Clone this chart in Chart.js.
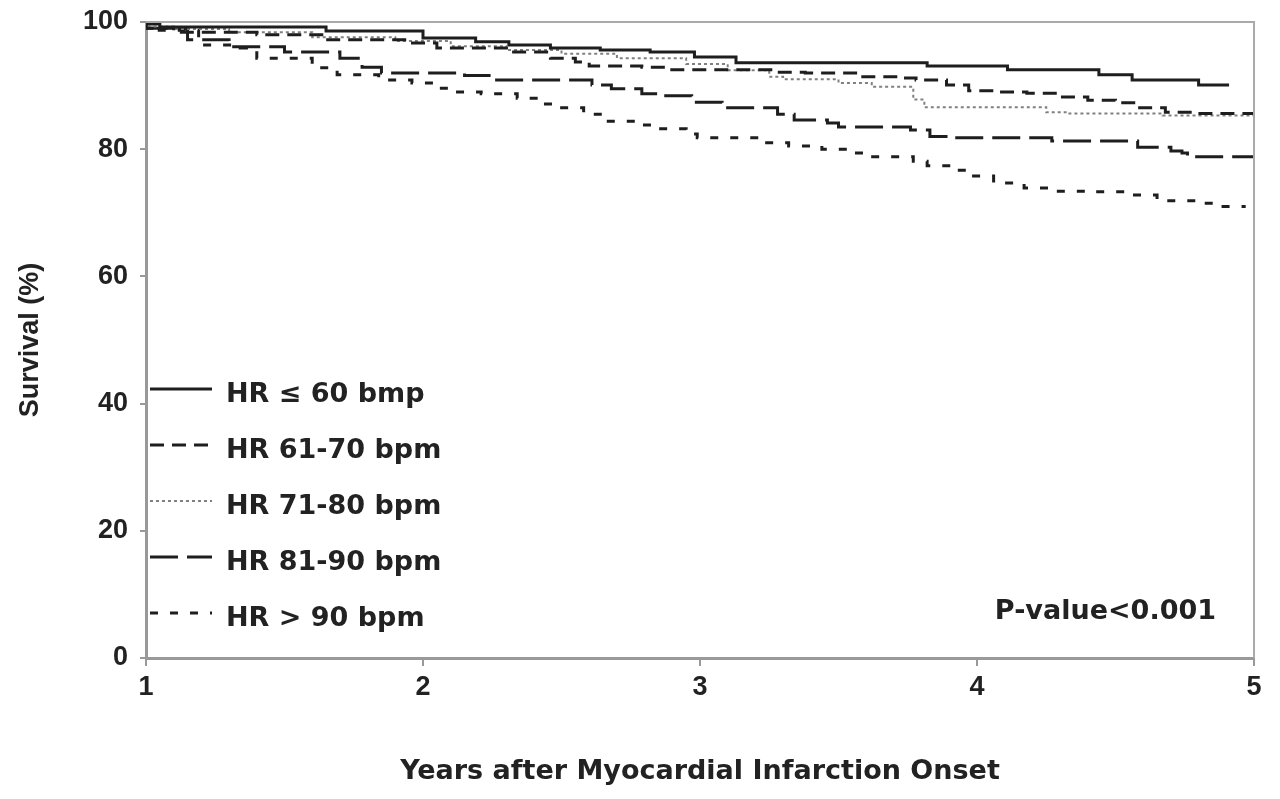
<!DOCTYPE html>
<html>
<head>
<meta charset="utf-8">
<script src="https://cdn.jsdelivr.net/npm/chart.js@4.4.2/dist/chart.umd.min.js"></script>
<style>
  html, body { margin: 0; padding: 0; background: #fff; }
  canvas { display: block; }
</style>
</head>
<body>
<canvas id="chart-survival" width="1280" height="799"></canvas>
<script>
// survival step data (years after MI onset, % surviving)
const hr60_years = [1, 1.05, 1.65, 2.0, 2.19, 2.31, 2.46, 2.64, 2.82, 2.98, 3.13, 3.82, 4.11, 4.44, 4.56, 4.80, 4.82, 4.91];
const hr60_surv  = [100, 99.7, 99.2, 98.6, 97.5, 96.9, 96.4, 95.9, 95.6, 95.3, 94.5, 93.6, 93.1, 92.5, 91.7, 90.9, 90.1, 90.1];

const hr61_70_years = [1, 1.1, 1.4, 1.65, 1.95, 2.05, 2.32, 2.46, 2.55, 2.6, 2.79, 2.89, 3.27, 3.38, 3.58, 3.72, 3.78, 3.89, 3.97, 4.07, 4.18, 4.29, 4.40, 4.50, 4.58, 4.68, 4.79, 5.0];
const hr61_70_surv  = [100, 99.0, 98.4, 98.0, 97.2, 96.7, 95.9, 95.3, 94.3, 93.7, 93.1, 92.9, 92.5, 92.1, 92.0, 91.4, 91.2, 90.9, 90.1, 89.2, 89.0, 88.8, 88.2, 87.7, 87.3, 86.5, 85.8, 85.6];

const hr71_80_years = [1, 1.1, 1.3, 1.6, 1.9, 2.1, 2.3, 2.5, 2.7, 2.95, 3.1, 3.25, 3.3, 3.5, 3.62, 3.77, 3.81, 4.25, 4.32, 4.67, 5.0];
const hr71_80_surv  = [100, 99.3, 98.9, 98.4, 97.6, 97.0, 96.2, 95.6, 95.0, 94.3, 93.4, 92.4, 91.4, 91.0, 90.4, 89.8, 87.8, 86.6, 85.8, 85.6, 85.3];

const hr81_90_years = [1, 1.15, 1.3, 1.5, 1.7, 1.78, 1.85, 2.15, 2.26, 2.61, 2.68, 2.79, 2.85, 2.97, 3.08, 3.28, 3.34, 3.46, 3.50, 3.76, 3.83, 3.91, 4.27, 4.58, 4.70, 4.74, 4.76, 4.97, 5.0];
const hr81_90_surv  = [100, 99.0, 97.2, 96.1, 95.3, 94.3, 92.9, 92.0, 91.6, 90.9, 90.1, 89.5, 88.7, 88.4, 87.4, 86.5, 85.5, 84.6, 84.1, 83.5, 83.0, 82.0, 81.8, 81.3, 80.3, 79.7, 79.4, 78.8, 78.8];

const hr90_years = [1, 1.19, 1.34, 1.40, 1.60, 1.69, 1.84, 1.96, 2.05, 2.10, 2.21, 2.34, 2.43, 2.49, 2.58, 2.64, 2.78, 2.84, 2.95, 2.99, 3.23, 3.32, 3.44, 3.54, 3.61, 3.77, 3.82, 3.92, 3.98, 4.06, 4.17, 4.26, 4.43, 4.55, 4.65, 4.80, 4.88, 4.93, 4.97];
const hr90_surv  = [100, 98.7, 96.4, 95.9, 94.3, 92.8, 91.7, 90.9, 90.4, 89.6, 89.0, 88.7, 88.0, 87.1, 86.5, 85.5, 84.4, 83.8, 83.2, 82.4, 81.8, 81.0, 80.5, 80.0, 79.4, 78.8, 78.1, 77.4, 76.7, 75.8, 74.7, 73.9, 73.4, 73.3, 72.8, 71.9, 71.5, 71.0, 71.0];

const series_labels = ['HR \u2264 60 bmp', 'HR 61-70 bpm', 'HR 71-80 bpm', 'HR 81-90 bpm', 'HR > 90 bpm'];
const x_ticks = [1, 2, 3, 4, 5];
const y_ticks = [0, 20, 40, 60, 80, 100];
const p_value_text = 'P-value<0.001';

const TEXT_FONT = 'DejaVu Sans';
const TICK_FONT = 'Liberation Sans';

function to_points(xs, ys) {
    return xs.map((x, i) => ({ x, y: ys[i] }));
}

function line_set(label, xs, ys, color, width, dash) {
    return {
        label,
        data: to_points(xs, ys),
        stepped: 'after',
        borderColor: color,
        borderWidth: width,
        borderDash: dash,
        pointRadius: 0,
        fill: false
    };
}

// frame on top/right, legend inside the plot and the p-value note
const decorations = {
    id: 'decorations',
    afterDraw(chart) {
        const { ctx, chartArea: a } = chart;
        ctx.save();
        ctx.strokeStyle = '#aaa';
        ctx.lineWidth = 2;
        ctx.beginPath();
        ctx.moveTo(a.left, a.top);
        ctx.lineTo(a.right, a.top);
        ctx.lineTo(a.right, a.bottom);
        ctx.stroke();

        ctx.font = `bold 27px "${TEXT_FONT}"`;
        ctx.fillStyle = '#222';
        ctx.textBaseline = 'middle';
        chart.data.datasets.forEach((ds, i) => {
            const y = 389 + i * 56;
            ctx.strokeStyle = ds.borderColor;
            ctx.lineWidth = ds.borderWidth;
            ctx.setLineDash(ds.borderDash || []);
            ctx.beginPath();
            ctx.moveTo(a.left + 4, y);
            ctx.lineTo(a.left + 66, y);
            ctx.stroke();
            ctx.setLineDash([]);
            ctx.textAlign = 'left';
            ctx.fillText(ds.label, a.left + 80, y + 6);
        });

        ctx.textAlign = 'right';
        ctx.fillText(p_value_text, a.right - 38, 612);
        ctx.restore();
    }
};

const ctx = document.getElementById('chart-survival');

new Chart(ctx, {
    type: 'line',
    data: {
        datasets: [
            line_set(series_labels[0], hr60_years, hr60_surv, '#1e1e1e', 3, []),
            line_set(series_labels[1], hr61_70_years, hr61_70_surv, '#1e1e1e', 3, [14, 8]),
            line_set(series_labels[2], hr71_80_years, hr71_80_surv, '#808080', 2, [3, 3]),
            line_set(series_labels[3], hr81_90_years, hr81_90_surv, '#1e1e1e', 3, [28, 9]),
            line_set(series_labels[4], hr90_years, hr90_surv, '#1e1e1e', 3, [8, 12])
        ]
    },
    options: {
        responsive: false,
        animation: false,
        devicePixelRatio: 1,
        layout: {
            padding: { top: 22, right: 26, bottom: 0, left: 0 }
        },
        plugins: {
            legend: { display: false },
            tooltip: { enabled: false }
        },
        scales: {
            x: {
                type: 'linear',
                min: 1,
                max: 5,
                afterBuildTicks: (scale) => { scale.ticks = x_ticks.map(v => ({ value: v })); },
                afterFit: (scale) => { scale.height = 141; },
                grid: { drawOnChartArea: false, drawTicks: true, tickLength: 8, color: '#999', lineWidth: 2 },
                border: { display: true, color: '#999', width: 3 },
                ticks: {
                    color: '#222',
                    padding: 8,
                    font: { family: TICK_FONT, size: 27, weight: 'bold', lineHeight: 1 }
                },
                title: {
                    display: true,
                    text: 'Years after Myocardial Infarction Onset',
                    color: '#222',
                    font: { family: TEXT_FONT, size: 27, weight: 'bold' },
                    padding: { top: 4, bottom: 11 }
                }
            },
            y: {
                min: 0,
                max: 100,
                afterBuildTicks: (scale) => { scale.ticks = y_ticks.map(v => ({ value: v })); },
                afterFit: (scale) => {
                    scale.width = 146;
                    scale.paddingTop = 0;
                    scale.paddingBottom = 0;
                },
                grid: { drawOnChartArea: false, drawTicks: true, tickLength: 6, color: '#999', lineWidth: 2 },
                border: { display: true, color: '#999', width: 3 },
                ticks: {
                    color: '#222',
                    padding: 12,
                    font: { family: TICK_FONT, size: 27, weight: 'bold', lineHeight: 1 }
                },
                title: {
                    display: true,
                    text: 'Survival (%)',
                    color: '#222',
                    font: { family: TICK_FONT, size: 27, weight: 'bold' },
                    padding: { top: 14, bottom: 0 }
                }
            }
        }
    },
    plugins: [decorations]
});
</script>
</body>
</html>
